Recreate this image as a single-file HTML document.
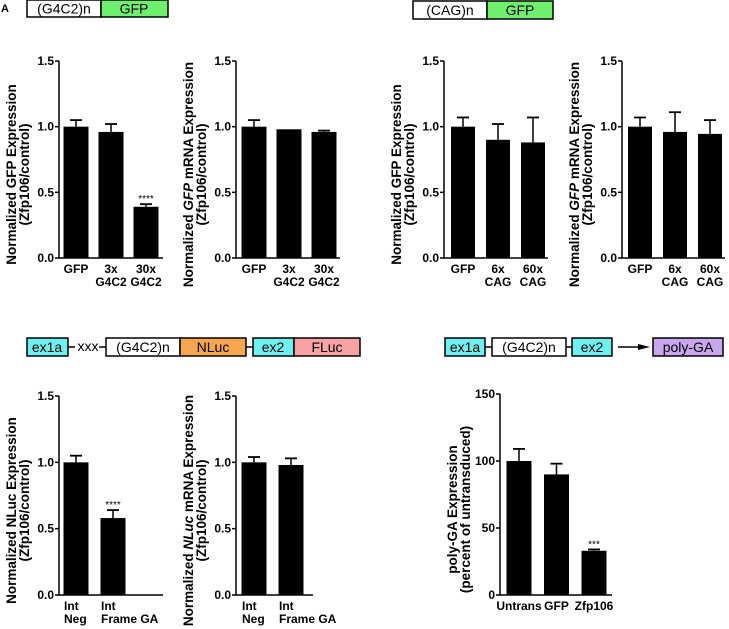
<!DOCTYPE html>
<html><head><meta charset="utf-8"><style>
body{margin:0;background:#fff}
svg{display:block;font-family:"Liberation Sans",Arial,sans-serif;font-weight:bold}
</style></head><body>
<svg id="fig" width="729" height="629" viewBox="0 0 729 629">
<g font-size="14" font-weight="normal">
<rect x="27" y="0" width="74" height="17" fill="#fff" stroke="#000" stroke-width="1.5"/>
<text x="64" y="13.5" text-anchor="middle">(G4C2)n</text>
<rect x="101" y="0" width="67" height="17" fill="#6ef06e" stroke="#000" stroke-width="1.5"/>
<text x="134" y="13.5" text-anchor="middle">GFP</text>
<text x="1" y="12" font-size="11" font-weight="bold">A</text>
</g>
<g font-size="14" font-weight="normal">
<rect x="413" y="1" width="74" height="18" fill="#fff" stroke="#000" stroke-width="1.5"/>
<text x="450" y="15" text-anchor="middle">(CAG)n</text>
<rect x="487" y="1" width="66" height="18" fill="#6ef06e" stroke="#000" stroke-width="1.5"/>
<text x="520" y="15" text-anchor="middle">GFP</text>
</g>
<g font-size="14" font-weight="normal">
<rect x="27" y="338" width="41" height="18" fill="#6ef0f0" stroke="#000" stroke-width="1.5"/>
<text x="47" y="352" text-anchor="middle">ex1a</text>
<line x1="68" y1="347" x2="75" y2="347" stroke="#000" stroke-width="1.5"/>
<text x="88" y="351" text-anchor="middle">xxx</text>
<line x1="99" y1="347" x2="106" y2="347" stroke="#000" stroke-width="1.5"/>
<rect x="106" y="338" width="74" height="18" fill="#fff" stroke="#000" stroke-width="1.5"/>
<text x="143" y="352" text-anchor="middle">(G4C2)n</text>
<rect x="180" y="338" width="66" height="18" fill="#f7a650" stroke="#000" stroke-width="1.5"/>
<text x="213" y="352" text-anchor="middle">NLuc</text>
<line x1="246" y1="347" x2="253" y2="347" stroke="#000" stroke-width="1.5"/>
<rect x="253" y="338" width="41" height="18" fill="#6ef0f0" stroke="#000" stroke-width="1.5"/>
<text x="273" y="352" text-anchor="middle">ex2</text>
<rect x="294" y="338" width="66" height="18" fill="#f7a3a3" stroke="#000" stroke-width="1.5"/>
<text x="327" y="352" text-anchor="middle">FLuc</text>
</g>
<g font-size="14" font-weight="normal">
<rect x="445" y="338" width="40" height="18" fill="#6ef0f0" stroke="#000" stroke-width="1.5"/>
<text x="465" y="352" text-anchor="middle">ex1a</text>
<line x1="485" y1="347" x2="492" y2="347" stroke="#000" stroke-width="1.5"/>
<rect x="492" y="338" width="74" height="18" fill="#fff" stroke="#000" stroke-width="1.5"/>
<text x="529" y="352" text-anchor="middle">(G4C2)n</text>
<line x1="566" y1="347" x2="572" y2="347" stroke="#000" stroke-width="1.5"/>
<rect x="572" y="338" width="40" height="18" fill="#6ef0f0" stroke="#000" stroke-width="1.5"/>
<text x="592" y="352" text-anchor="middle">ex2</text>
<line x1="618" y1="347" x2="640" y2="347" stroke="#000" stroke-width="1.5"/>
<polygon points="638,344 650,347 638,350" fill="#000"/>
<rect x="653" y="338" width="70" height="18" fill="#c9a6ee" stroke="#000" stroke-width="1.5"/>
<text x="688" y="352" text-anchor="middle">poly-GA</text>
</g>
</svg>
<script>
const a1Cats=[["GFP"],["3x","G4C2"],["30x","G4C2"]];
const a1Vals=[1.0,0.96,0.39];
const a1Errs=[0.05,0.06,0.02];
const a1Stars=["","","****"];
const a2Cats=[["GFP"],["3x","G4C2"],["30x","G4C2"]];
const a2Vals=[1.0,0.98,0.96];
const a2Errs=[0.05,0.0,0.01];
const b1Cats=[["GFP"],["6x","CAG"],["60x","CAG"]];
const b1Vals=[1.0,0.90,0.88];
const b1Errs=[0.07,0.12,0.19];
const b2Vals=[1.0,0.96,0.945];
const b2Errs=[0.07,0.15,0.105];
const c1Cats=[["Int","Neg"],["Int","Frame GA"]];
const c1Vals=[1.0,0.58];
const c1Errs=[0.05,0.06];
const c1Stars=["","****"];
const c2Vals=[1.0,0.98];
const c2Errs=[0.04,0.05];
const dCats=[["Untrans"],["GFP"],["Zfp106"]];
const dVals=[100,90,33];
const dErrs=[9,8,1];
const dStars=["","","***"];
const decTicks=[0,0.5,1.0,1.5];
const decTickLabels=["0.0","0.5","1.0","1.5"];
const dTicks=[0,50,100,150];
const dTickLabels=["0","50","100","150"];

const NS="http://www.w3.org/2000/svg";
const svg=document.getElementById('fig');
function mk(tag,attrs,parent){const e=document.createElementNS(NS,tag);for(const k in attrs)e.setAttribute(k,attrs[k]);parent.appendChild(e);return e;}

function chart(o){
  const g=mk('g',{},svg);
  
  
  const y=v=>o.y0-(v-o.ticks[0])/(o.ticks[o.ticks.length-1]-o.ticks[0])*(o.y0-o.y1);
  const ax=mk('path',{d:`M${o.ax},${o.y1} V${o.y0} H${o.axEnd}`,stroke:'#000','stroke-width':1.5,fill:'none'},g);
  
  
  o.ticks.forEach((t,i)=>{
    mk('line',{x1:o.ax-4,x2:o.ax,y1:y(t),y2:y(t),stroke:'#000','stroke-width':1.5},g);
    const tx=mk('text',{x:o.ax-5,y:y(t)+4,'text-anchor':'end','font-size':12},g);
    tx.textContent=o.tickLabels[i];
    
    
  });
  o.vals.forEach((v,i)=>{
    const cx=o.x0+i*o.step, w=o.bw;
    const r=mk('rect',{x:cx-w/2,y:y(v),width:w,height:o.y0-y(v),fill:'#000'},g);
    
    
    const e=o.errs[i];
    if(e>0){
      mk('line',{x1:cx,x2:cx,y1:y(v),y2:y(v+e),stroke:'#000','stroke-width':1.5},g);
      mk('line',{x1:cx-6,x2:cx+6,y1:y(v+e),y2:y(v+e),stroke:'#000','stroke-width':1.8},g);
    }
    if(o.stars&&o.stars[i]){
      const s=mk('text',{x:cx,y:y(v+e)-2,'text-anchor':'middle','font-size':10,'font-weight':'normal'},g);
      s.textContent=o.stars[i];
      
      
    }
    o.cats[i].forEach((c,j)=>{
      const tx=mk('text',{x:o.labelX?o.labelX(cx,c):cx,y:o.y0+15+j*13,'text-anchor':o.anchor||'middle','font-size':12},g);
      tx.textContent=c;
      
      
    });
  });
  const cy=(o.y0+o.y1)/2+o.ylOff;
  o.ylabel.forEach((l,j)=>{
    const t=mk('text',{transform:`translate(${o.ax-43+j*13},${cy}) rotate(-90)`,'text-anchor':'middle','font-size':13.5},g);
    t.innerHTML=l;
    
    
  });
}
const gfpProt=["Normalized GFP Expression","(Zfp106/control)"];
const gfpRNA=["Normalized <tspan font-style='italic'>GFP</tspan> mRNA Expression","(Zfp106/control)"];
chart({name:'chart-a-protein',ax:59,axEnd:163,y0:258,y1:61,x0:76,step:35,bw:25,vals:a1Vals,errs:a1Errs,stars:a1Stars,cats:a1Cats,ticks:decTicks,tickLabels:decTickLabels,ylabel:gfpProt,ylOff:15});
chart({name:'chart-a-mrna',ax:236,axEnd:340,y0:258,y1:61,x0:254,step:35,bw:25,vals:a2Vals,errs:a2Errs,cats:a2Cats,ticks:decTicks,tickLabels:decTickLabels,ylabel:gfpRNA,ylOff:15});
chart({name:'chart-b-protein',ax:444,axEnd:548,y0:258,y1:61,x0:463,step:35,bw:24,vals:b1Vals,errs:b1Errs,cats:b1Cats,ticks:decTicks,tickLabels:decTickLabels,ylabel:gfpProt,ylOff:15});
chart({name:'chart-b-mrna',ax:622,axEnd:725,y0:258,y1:61,x0:640,step:35,bw:24,vals:b2Vals,errs:b2Errs,cats:b1Cats,ticks:decTicks,tickLabels:decTickLabels,ylabel:gfpRNA,ylOff:15});
const lx=(cx,c)=>cx-12;
chart({name:'chart-c-protein',ax:59,axEnd:163,y0:595,y1:396,x0:76,step:37,bw:25,vals:c1Vals,errs:c1Errs,stars:c1Stars,cats:c1Cats,ticks:decTicks,tickLabels:decTickLabels,ylabel:["Normalized NLuc Expression","(Zfp106/control)"],ylOff:15,anchor:'start',labelX:lx});
chart({name:'chart-c-mrna',ax:236,axEnd:313,y0:595,y1:396,x0:254,step:37,bw:25,vals:c2Vals,errs:c2Errs,cats:c1Cats,ticks:decTicks,tickLabels:decTickLabels,ylabel:["Normalized <tspan font-style='italic'>NLuc</tspan> mRNA Expression","(Zfp106/control)"],ylOff:15,anchor:'start',labelX:lx});
chart({name:'chart-d-polyga',ax:500,axEnd:612,y0:595,y1:394,x0:519,step:37.5,bw:25,vals:dVals,errs:dErrs,stars:dStars,cats:dCats,ticks:dTicks,tickLabels:dTickLabels,ylabel:["poly-GA Expression","(percent of untransduced)"],ylOff:15});
</script>
</body></html>
